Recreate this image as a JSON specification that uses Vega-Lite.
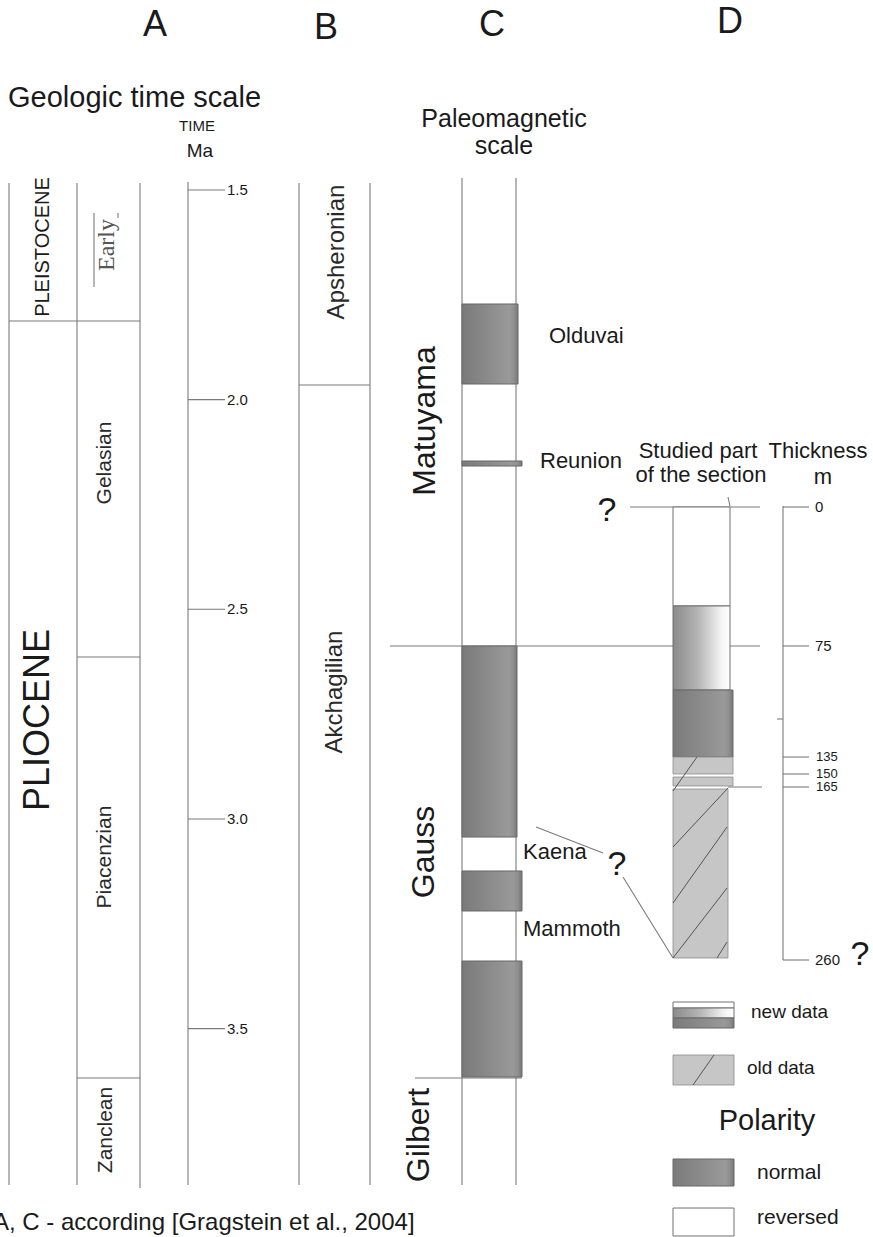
{
  "$schema": "https://vega.github.io/schema/vega-lite/v6.json",
  "width": 873,
  "height": 1237,
  "autosize": {"type": "none"},
  "padding": 0,
  "background": "#ffffff",
  "config": {
    "view": {"stroke": null},
    "text": {"font": "Liberation Sans", "color": "#1a1a1a"},
    "rule": {"stroke": "#7a7a7a", "strokeWidth": 1.1}
  },
  "datasets": {
    "frame": [
      {"x": 9, "x2": 9, "t": 1.4833, "t2": 3.8730},
      {"x": 77, "x2": 77, "t": 1.4833, "t2": 3.8730},
      {"x": 140, "x2": 140, "t": 1.4833, "t2": 3.8802},
      {"x": 9, "x2": 140, "t": 1.8125, "t2": 1.8125},
      {"x": 77, "x2": 140, "t": 2.6138, "t2": 2.6138},
      {"x": 77, "x2": 140, "t": 3.6178, "t2": 3.6178},
      {"x": 94, "x2": 94, "t": 1.5549, "t2": 1.7314},
      {"x": 118, "x2": 118, "t": 1.5549, "t2": 1.5668},
      {"x": 188, "x2": 188, "t": 1.4810, "t2": 3.8730},
      {"x": 299, "x2": 299, "t": 1.4833, "t2": 3.8730},
      {"x": 370, "x2": 370, "t": 1.4833, "t2": 3.8730},
      {"x": 299, "x2": 370, "t": 1.9651, "t2": 1.9651},
      {"x": 462, "x2": 462, "t": 1.4714, "t2": 3.8730},
      {"x": 516, "x2": 516, "t": 1.4714, "t2": 3.8730},
      {"x": 390, "x2": 760, "t": 2.5875, "t2": 2.5875},
      {"x": 415, "x2": 522, "t": 3.6178, "t2": 3.6178},
      {"x": 630, "x2": 760, "t": 2.2561, "t2": 2.2561},
      {"x": 728, "x2": 730, "t": 2.2322, "t2": 2.2537},
      {"x": 728, "x2": 762, "t": 2.9238, "t2": 2.9238},
      {"x": 536, "x2": 603, "t": 3.0192, "t2": 3.0812},
      {"x": 623, "x2": 673, "t": 3.1385, "t2": 3.3316},
      {"x": 783, "x2": 783, "t": 2.2537, "t2": 3.3364},
      {"x": 777, "x2": 783, "t": 2.7616, "t2": 2.7616}
    ],
    "hatch": [
      {"x": 673, "x2": 697, "t": 2.9334, "t2": 2.8523},
      {"x": 673, "x2": 728, "t": 3.0669, "t2": 2.9262},
      {"x": 673, "x2": 727, "t": 3.2005, "t2": 3.0192},
      {"x": 673, "x2": 727, "t": 3.3316, "t2": 3.1647},
      {"x": 717, "x2": 727, "t": 3.3316, "t2": 3.2935},
      {"x": 693, "x2": 714, "t": 3.6345, "t2": 3.5630}
    ],
    "blocks": [
      {"x": 462, "x2": 518, "t": 1.7719, "t2": 1.9627, "kind": "normal"},
      {"x": 462, "x2": 522, "t": 2.1463, "t2": 2.1583, "kind": "normal"},
      {"x": 462, "x2": 517, "t": 2.5875, "t2": 3.0431, "kind": "normal"},
      {"x": 462, "x2": 522, "t": 3.1241, "t2": 3.2195, "kind": "normal"},
      {"x": 462, "x2": 522, "t": 3.3388, "t2": 3.6154, "kind": "normal"},
      {"x": 673, "x2": 730, "t": 2.2561, "t2": 2.4921, "kind": "reversed"},
      {"x": 673, "x2": 730, "t": 2.4921, "t2": 2.6925, "kind": "newdata"},
      {"x": 673, "x2": 733, "t": 2.6925, "t2": 2.8523, "kind": "normal"},
      {"x": 673, "x2": 733, "t": 2.8523, "t2": 2.8928, "kind": "olddata"},
      {"x": 673, "x2": 733, "t": 2.9000, "t2": 2.9214, "kind": "olddata"},
      {"x": 673, "x2": 728, "t": 2.9286, "t2": 3.3316, "kind": "olddata"},
      {"x": 673, "x2": 734, "t": 3.4366, "t2": 3.4509, "kind": "reversed"},
      {"x": 673, "x2": 734, "t": 3.4509, "t2": 3.4747, "kind": "newdata"},
      {"x": 673, "x2": 734, "t": 3.4747, "t2": 3.4986, "kind": "normal"},
      {"x": 673, "x2": 734, "t": 3.5630, "t2": 3.6345, "kind": "olddata"},
      {"x": 673, "x2": 734, "t": 3.8110, "t2": 3.8754, "kind": "normal"},
      {"x": 673, "x2": 734, "t": 3.9279, "t2": 3.9946, "kind": "reversed"}
    ],
    "ages": [
      {"t": 1.5}, {"t": 2.0}, {"t": 2.5}, {"t": 3.0}, {"t": 3.5}
    ],
    "depths": [
      {"m": 0, "t": 2.2561},
      {"m": 75, "t": 2.5875},
      {"m": 135, "t": 2.8523},
      {"m": 150, "t": 2.8928},
      {"m": 165, "t": 2.9238},
      {"m": 260, "t": 3.3364}
    ],
    "labels": [
      {"text": "A", "x": 155, "t": 1.1328, "role": "panel"},
      {"text": "B", "x": 326, "t": 1.1399, "role": "panel"},
      {"text": "C", "x": 492, "t": 1.1328, "role": "panel"},
      {"text": "D", "x": 730, "t": 1.1256, "role": "panel"},
      {"text": "Geologic time scale", "x": 8, "t": 1.3021, "role": "title"},
      {"text": "Paleomagnetic", "x": 504, "t": 1.3498, "role": "subtitle"},
      {"text": "scale", "x": 504, "t": 1.4140, "role": "subtitle"},
      {"text": "TIME", "x": 197, "t": 1.3593, "role": "unit-time"},
      {"text": "Ma", "x": 200, "t": 1.4213, "role": "unit-ma"},
      {"text": "PLEISTOCENE", "x": 43, "t": 1.6360, "role": "epoch-minor"},
      {"text": "PLIOCENE", "x": 38, "t": 2.7640, "role": "epoch"},
      {"text": "Gelasian", "x": 105, "t": 2.1511, "role": "stage"},
      {"text": "Piacenzian", "x": 105, "t": 3.0908, "role": "stage"},
      {"text": "Zanclean", "x": 106, "t": 3.7418, "role": "stage"},
      {"text": "Apsheronian", "x": 337, "t": 1.6479, "role": "regional"},
      {"text": "Akchagilian", "x": 335, "t": 2.6973, "role": "regional"},
      {"text": "Early", "x": 107, "t": 1.6312, "role": "substage"},
      {"text": "Matuyama", "x": 425, "t": 2.0509, "role": "chron"},
      {"text": "Gauss", "x": 424, "t": 3.0788, "role": "chron"},
      {"text": "Gilbert", "x": 419, "t": 3.7538, "role": "chron"},
      {"text": "Olduvai", "x": 549, "t": 1.8482, "role": "subchron"},
      {"text": "Reunion", "x": 540, "t": 2.1463, "role": "subchron"},
      {"text": "Kaena", "x": 523, "t": 3.0788, "role": "subchron"},
      {"text": "Mammoth", "x": 523, "t": 3.2625, "role": "subchron"},
      {"text": "?", "x": 607, "t": 2.2656, "role": "query"},
      {"text": "?", "x": 617, "t": 3.1098, "role": "query"},
      {"text": "?", "x": 860, "t": 3.3245, "role": "query"},
      {"text": "Studied part", "x": 698, "t": 2.1392, "role": "section-head"},
      {"text": "of the section", "x": 701, "t": 2.1964, "role": "section-head"},
      {"text": "Thickness", "x": 818, "t": 2.1392, "role": "section-head"},
      {"text": "m", "x": 823, "t": 2.2012, "role": "section-head"},
      {"text": "new data", "x": 751, "t": 3.4747, "role": "legend-data"},
      {"text": "old data", "x": 747, "t": 3.6083, "role": "legend-data"},
      {"text": "normal", "x": 757, "t": 3.8587, "role": "legend-polarity"},
      {"text": "reversed", "x": 757, "t": 3.9660, "role": "legend-polarity"},
      {"text": "Polarity", "x": 767, "t": 3.7418, "role": "legend-title"},
      {"text": "A, C - according [Gragstein et al., 2004]", "x": -7, "t": 3.9803, "role": "note"}
    ]
  },
  "encoding": {
    "y": {"field": "t", "type": "quantitative", "scale": {"domain": [1.0469, 3.9970], "reverse": true, "nice": false, "zero": false}, "axis": null}
  },
  "layer": [
    {
      "data": {"name": "frame"},
      "mark": {"type": "rule"},
      "encoding": {
        "x": {"field": "x", "type": "quantitative", "scale": {"domain": [0, 873], "nice": false, "zero": false}, "axis": null},
        "x2": {"field": "x2"},
        "y2": {"field": "t2"}
      }
    },
    {
      "data": {"name": "ages"},
      "mark": {"type": "rule"},
      "encoding": {
        "x": {"datum": 188, "type": "quantitative"},
        "x2": {"datum": 225}
      }
    },
    {
      "data": {"name": "ages"},
      "mark": {"type": "text", "fontSize": 15, "align": "left", "baseline": "middle"},
      "encoding": {
        "x": {"datum": 227, "type": "quantitative"},
        "text": {"field": "t", "type": "quantitative", "format": ".1f"}
      }
    },
    {
      "data": {"name": "blocks"},
      "transform": [{"filter": "datum.kind === 'reversed'"}],
      "mark": {"type": "rect", "fill": "#ffffff", "stroke": "#707070", "strokeWidth": 1},
      "encoding": {"x": {"field": "x", "type": "quantitative"}, "x2": {"field": "x2"}, "y2": {"field": "t2"}}
    },
    {
      "data": {"name": "blocks"},
      "transform": [{"filter": "datum.kind === 'newdata'"}],
      "mark": {
        "type": "rect",
        "stroke": "#707070",
        "strokeWidth": 1,
        "fill": {
          "gradient": "linear", "x1": 0, "y1": 0, "x2": 1, "y2": 0,
          "stops": [
            {"offset": 0, "color": "#8a8a8a"},
            {"offset": 0.45, "color": "#b6b6b6"},
            {"offset": 0.85, "color": "#f4f4f4"},
            {"offset": 1, "color": "#ffffff"}
          ]
        }
      },
      "encoding": {"x": {"field": "x", "type": "quantitative"}, "x2": {"field": "x2"}, "y2": {"field": "t2"}}
    },
    {
      "data": {"name": "blocks"},
      "transform": [{"filter": "datum.kind === 'normal'"}],
      "mark": {
        "type": "rect",
        "stroke": "#686868",
        "strokeWidth": 1,
        "fill": {
          "gradient": "linear", "x1": 0, "y1": 0, "x2": 1, "y2": 0,
          "stops": [
            {"offset": 0, "color": "#7a7a7a"},
            {"offset": 0.85, "color": "#999999"},
            {"offset": 0.93, "color": "#8f8f8f"},
            {"offset": 1, "color": "#777777"}
          ]
        }
      },
      "encoding": {"x": {"field": "x", "type": "quantitative"}, "x2": {"field": "x2"}, "y2": {"field": "t2"}}
    },
    {
      "data": {"name": "blocks"},
      "transform": [{"filter": "datum.kind === 'olddata'"}],
      "mark": {"type": "rect", "fill": "#c6c6c6", "stroke": "#8a8a8a", "strokeWidth": 0.8},
      "encoding": {"x": {"field": "x", "type": "quantitative"}, "x2": {"field": "x2"}, "y2": {"field": "t2"}}
    },
    {
      "data": {"name": "hatch"},
      "mark": {"type": "rule", "stroke": "#555555", "strokeWidth": 1},
      "encoding": {"x": {"field": "x", "type": "quantitative"}, "x2": {"field": "x2"}, "y2": {"field": "t2"}}
    },
    {
      "data": {"name": "depths"},
      "mark": {"type": "rule"},
      "encoding": {
        "x": {"datum": 783, "type": "quantitative"},
        "x2": {"datum": 809}
      }
    },
    {
      "data": {"name": "depths"},
      "transform": [{"filter": "datum.m < 135 || datum.m > 165"}],
      "mark": {"type": "text", "fontSize": 15, "align": "left", "baseline": "middle"},
      "encoding": {
        "x": {"datum": 815, "type": "quantitative"},
        "text": {"field": "m", "type": "quantitative"}
      }
    },
    {
      "data": {"name": "depths"},
      "transform": [{"filter": "datum.m >= 135 && datum.m <= 165"}],
      "mark": {"type": "text", "fontSize": 13, "align": "left", "baseline": "middle"},
      "encoding": {
        "x": {"datum": 816, "type": "quantitative"},
        "text": {"field": "m", "type": "quantitative"}
      }
    },
    {
      "data": {"name": "labels"},
      "transform": [{"filter": "datum.role === 'panel'"}],
      "mark": {"type": "text", "fontSize": 36, "align": "center", "baseline": "alphabetic"},
      "encoding": {"x": {"field": "x", "type": "quantitative"}, "text": {"field": "text"}}
    },
    {
      "data": {"name": "labels"},
      "transform": [{"filter": "datum.role === 'title'"}],
      "mark": {"type": "text", "fontSize": 29, "align": "left", "baseline": "alphabetic"},
      "encoding": {"x": {"field": "x", "type": "quantitative"}, "text": {"field": "text"}}
    },
    {
      "data": {"name": "labels"},
      "transform": [{"filter": "datum.role === 'subtitle'"}],
      "mark": {"type": "text", "fontSize": 25, "align": "center", "baseline": "alphabetic"},
      "encoding": {"x": {"field": "x", "type": "quantitative"}, "text": {"field": "text"}}
    },
    {
      "data": {"name": "labels"},
      "transform": [{"filter": "datum.role === 'unit-time'"}],
      "mark": {"type": "text", "fontSize": 15, "align": "center", "baseline": "alphabetic"},
      "encoding": {"x": {"field": "x", "type": "quantitative"}, "text": {"field": "text"}}
    },
    {
      "data": {"name": "labels"},
      "transform": [{"filter": "datum.role === 'unit-ma'"}],
      "mark": {"type": "text", "fontSize": 19, "align": "center", "baseline": "alphabetic"},
      "encoding": {"x": {"field": "x", "type": "quantitative"}, "text": {"field": "text"}}
    },
    {
      "data": {"name": "labels"},
      "transform": [{"filter": "datum.role === 'epoch-minor'"}],
      "mark": {"type": "text", "fontSize": 20, "angle": 270, "align": "center", "baseline": "middle"},
      "encoding": {"x": {"field": "x", "type": "quantitative"}, "text": {"field": "text"}}
    },
    {
      "data": {"name": "labels"},
      "transform": [{"filter": "datum.role === 'epoch'"}],
      "mark": {"type": "text", "fontSize": 36, "angle": 270, "align": "center", "baseline": "middle"},
      "encoding": {"x": {"field": "x", "type": "quantitative"}, "text": {"field": "text"}}
    },
    {
      "data": {"name": "labels"},
      "transform": [{"filter": "datum.role === 'stage'"}],
      "mark": {"type": "text", "fontSize": 21, "angle": 270, "align": "center", "baseline": "middle", "color": "#2a2a2a"},
      "encoding": {"x": {"field": "x", "type": "quantitative"}, "text": {"field": "text"}}
    },
    {
      "data": {"name": "labels"},
      "transform": [{"filter": "datum.role === 'regional'"}],
      "mark": {"type": "text", "fontSize": 24, "angle": 270, "align": "center", "baseline": "middle", "color": "#2a2a2a"},
      "encoding": {"x": {"field": "x", "type": "quantitative"}, "text": {"field": "text"}}
    },
    {
      "data": {"name": "labels"},
      "transform": [{"filter": "datum.role === 'substage'"}],
      "mark": {"type": "text", "fontSize": 24, "font": "Liberation Serif", "angle": 270, "align": "center", "baseline": "middle", "color": "#555555"},
      "encoding": {"x": {"field": "x", "type": "quantitative"}, "text": {"field": "text"}}
    },
    {
      "data": {"name": "labels"},
      "transform": [{"filter": "datum.role === 'chron'"}],
      "mark": {"type": "text", "fontSize": 32, "angle": 270, "align": "center", "baseline": "middle"},
      "encoding": {"x": {"field": "x", "type": "quantitative"}, "text": {"field": "text"}}
    },
    {
      "data": {"name": "labels"},
      "transform": [{"filter": "datum.role === 'subchron'"}],
      "mark": {"type": "text", "fontSize": 22, "align": "left", "baseline": "middle"},
      "encoding": {"x": {"field": "x", "type": "quantitative"}, "text": {"field": "text"}}
    },
    {
      "data": {"name": "labels"},
      "transform": [{"filter": "datum.role === 'query'"}],
      "mark": {"type": "text", "fontSize": 34, "align": "center", "baseline": "middle"},
      "encoding": {"x": {"field": "x", "type": "quantitative"}, "text": {"field": "text"}}
    },
    {
      "data": {"name": "labels"},
      "transform": [{"filter": "datum.role === 'section-head'"}],
      "mark": {"type": "text", "fontSize": 22, "align": "center", "baseline": "alphabetic"},
      "encoding": {"x": {"field": "x", "type": "quantitative"}, "text": {"field": "text"}}
    },
    {
      "data": {"name": "labels"},
      "transform": [{"filter": "datum.role === 'legend-data'"}],
      "mark": {"type": "text", "fontSize": 19, "align": "left", "baseline": "alphabetic"},
      "encoding": {"x": {"field": "x", "type": "quantitative"}, "text": {"field": "text"}}
    },
    {
      "data": {"name": "labels"},
      "transform": [{"filter": "datum.role === 'legend-polarity'"}],
      "mark": {"type": "text", "fontSize": 21, "align": "left", "baseline": "alphabetic"},
      "encoding": {"x": {"field": "x", "type": "quantitative"}, "text": {"field": "text"}}
    },
    {
      "data": {"name": "labels"},
      "transform": [{"filter": "datum.role === 'legend-title'"}],
      "mark": {"type": "text", "fontSize": 29, "align": "center", "baseline": "alphabetic"},
      "encoding": {"x": {"field": "x", "type": "quantitative"}, "text": {"field": "text"}}
    },
    {
      "data": {"name": "labels"},
      "transform": [{"filter": "datum.role === 'note'"}],
      "mark": {"type": "text", "fontSize": 24, "align": "left", "baseline": "alphabetic"},
      "encoding": {"x": {"field": "x", "type": "quantitative"}, "text": {"field": "text"}}
    }
  ]
}
